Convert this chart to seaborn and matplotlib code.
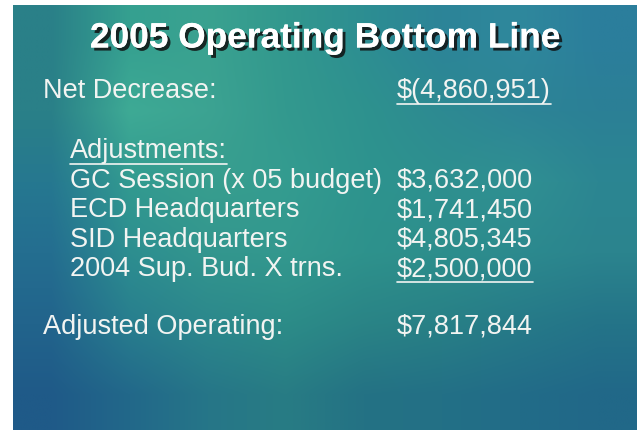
import matplotlib
matplotlib.use("Agg")
import matplotlib.pyplot as plt
import matplotlib.patheffects as pe
import numpy as np
import seaborn as sns

sns.set_style("white")
plt.rcParams["font.family"] = ["Liberation Sans", "DejaVu Sans"]

title = "2005 Operating Bottom Line"
net_label = "Net Decrease:"
net_value = -4860951
adj_header = "Adjustments:"
adj_labels = ["GC Session (x 05 budget)", "ECD Headquarters",
              "SID Headquarters", "2004 Sup. Bud. X trns."]
adj_values = [3632000, 1741450, 4805345, 2500000]
total_label = "Adjusted Operating:"
total_value = 7817844

# coarse colour grid for the painted slide background
bg_colors = [
    ["#2a8088", "#35a090", "#3aa290", "#32988e", "#2d8e92", "#2c8498", "#2f889c", "#2b7e9c"],
    ["#2a8088", "#3eaa95", "#3ca392", "#33998e", "#2e928e", "#2d8a92", "#2d8496", "#2b8096"],
    ["#267890", "#329a90", "#389e8e", "#349c90", "#2e948e", "#2e908f", "#309092", "#2c8692"],
    ["#246e90", "#2d8e90", "#33968e", "#33988e", "#2e928c", "#2d8e8c", "#2c8a8e", "#2b848e"],
    ["#22648c", "#287e8e", "#2c888c", "#2c8c88", "#2a8486", "#288086", "#267a88", "#247488"],
    ["#1f5a88", "#22688a", "#267688", "#287c84", "#247284", "#237086", "#226c88", "#216888"],
]


def money(v):
    s = "${:,.0f}".format(abs(v))
    return "$({:,.0f})".format(abs(v)) if v < 0 else s


fig = plt.figure(figsize=(6.39, 4.32), dpi=100, facecolor="white")
ax = fig.add_axes([13 / 639, 2 / 432, 624 / 639, 425 / 432])
x0, x1, y0, y1 = 13, 637, 5, 430
rgb = np.array([[matplotlib.colors.to_rgb(c) for c in row] for row in bg_colors])
ax.imshow(rgb, extent=(x0, x1, y1, y0), interpolation="bilinear", aspect="auto")
ax.set_xlim(x0, x1)
ax.set_ylim(y1, y0)
ax.axis("off")

fc = "#f2f4f2"
ax.text(325, 38, title, ha="center", va="center", fontsize=25.4,
        fontweight="bold", color="white",
        path_effects=[pe.withSimplePatchShadow(offset=(2.2, -2.2), shadow_rgbFace="#101010", alpha=0.85),
                      pe.Normal()])

body = dict(fontsize=19.5, color=fc, va="center", ha="left")
lab_x, ind_x, val_x = 43, 70, 397
underlined = []

ax.text(lab_x, 91, net_label, **body)
underlined.append(ax.text(val_x, 91, money(net_value), **body))
underlined.append(ax.text(ind_x, 151, adj_header, **body))

row_y = 181
for lab, val in zip(adj_labels, adj_values):
    ax.text(ind_x, row_y, lab, **body)
    t = ax.text(val_x, row_y, money(val), **body)
    row_y += 29.5
underlined.append(t)

ax.text(lab_x, 327, total_label, **body)
ax.text(val_x, 327, money(total_value), **body)

fig.canvas.draw()
r = fig.canvas.get_renderer()
inv = ax.transData.inverted()
for t in underlined:
    bb = t.get_window_extent(r)
    (ax_, ay_), (bx_, by_) = inv.transform([(bb.x0, bb.y0), (bb.x1, bb.y0)])
    ax.plot([ax_, bx_], [ay_ - 0.5, by_ - 0.5], color=fc, lw=1.2)

fig.savefig("out.png", dpi=100, facecolor="white")
